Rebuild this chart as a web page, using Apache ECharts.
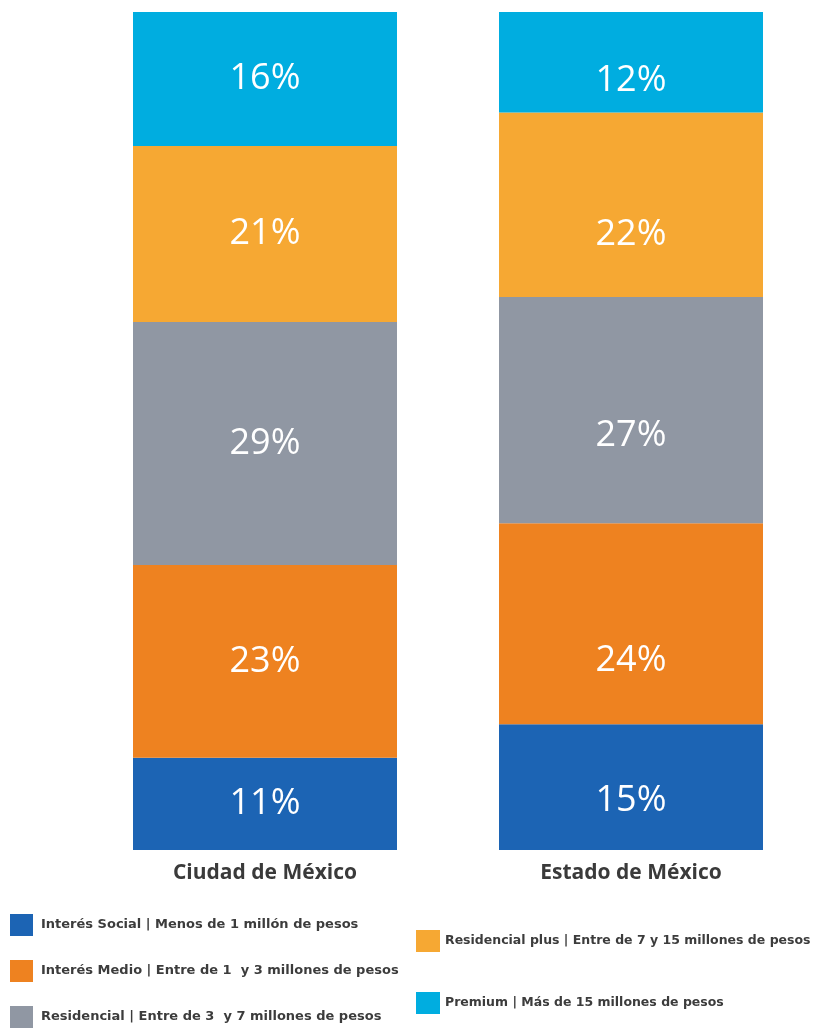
<!DOCTYPE html>
<html>
<head>
<meta charset="utf-8">
<script src="https://cdn.jsdelivr.net/npm/echarts@6/dist/echarts.min.js"></script>
<style>
  html, body { margin: 0; padding: 0; background: #fff; }
  #chart { width: 822px; height: 1030px; }
</style>
</head>
<body>
<div id="chart"></div>
<script>
// Data
const categories = ["Ciudad de México", "Estado de México"];
const segmentNames = [
  "Interés Social | Menos de 1 millón de pesos",
  "Interés Medio | Entre de 1  y 3 millones de pesos",
  "Residencial | Entre de 3  y 7 millones de pesos",
  "Residencial plus | Entre de 7 y 15 millones de pesos",
  "Premium | Más de 15 millones de pesos"
];
const interesSocial = [11, 15];
const interesMedio = [23, 24];
const residencial = [29, 27];
const residencialPlus = [21, 22];
const premium = [16, 12];

const colors = ["#1c64b4", "#ee8220", "#9097a3", "#f6a833", "#00ade0"];
const seriesValues = [interesSocial, interesMedio, residencial, residencialPlus, premium];
// the source lines up the right bar's labels with the left bar's, not centred
const labelShiftRight = [14, 37, 26, 30, 18];

const chart = echarts.init(document.getElementById("chart"));

const legendText = {
  fontFamily: "DejaVu Sans",
  fontWeight: "bold",
  fontSize: 13,
  color: "#3c3c3c",
  padding: [0, 0, 0, 3]
};

chart.setOption({
  animation: false,
  grid: { left: 82, right: 8, top: 12, bottom: 180 },
  legend: [
    {
      left: 10,
      top: 914,
      padding: 0,
      orient: "vertical",
      icon: "rect",
      itemWidth: 23,
      itemHeight: 22,
      itemGap: 24,
      textStyle: legendText,
      selectedMode: false,
      data: segmentNames.slice(0, 3)
    },
    {
      left: 416,
      top: 930,
      padding: 0,
      orient: "vertical",
      icon: "rect",
      itemWidth: 24,
      itemHeight: 22,
      itemGap: 40,
      textStyle: Object.assign({}, legendText, { fontSize: 12.5, padding: 0 }),
      selectedMode: false,
      data: segmentNames.slice(3)
    }
  ],
  xAxis: {
    type: "category",
    data: categories,
    axisLine: { show: false },
    axisTick: { show: false },
    axisLabel: {
      margin: 13,
      fontFamily: "Open Sans",
      fontWeight: "bold",
      fontSize: 21,
      color: "#3a3a3a"
    }
  },
  yAxis: {
    type: "value",
    min: 0,
    max: 100,
    show: false
  },
  series: seriesValues.map((vals, i) => ({
    name: segmentNames[i],
    type: "bar",
    stack: "total",
    barWidth: 264,
    itemStyle: { color: colors[i] },
    label: {
      show: true,
      position: "inside",
      formatter: "{c}%",
      color: "#fff",
      fontFamily: "Open Sans",
      fontWeight: 500,
      fontSize: 36
    },
    data: vals.map((v, j) => j === 1
      ? { value: v, label: { offset: [0, labelShiftRight[i]] } }
      : v)
  }))
});
</script>
</body>
</html>
